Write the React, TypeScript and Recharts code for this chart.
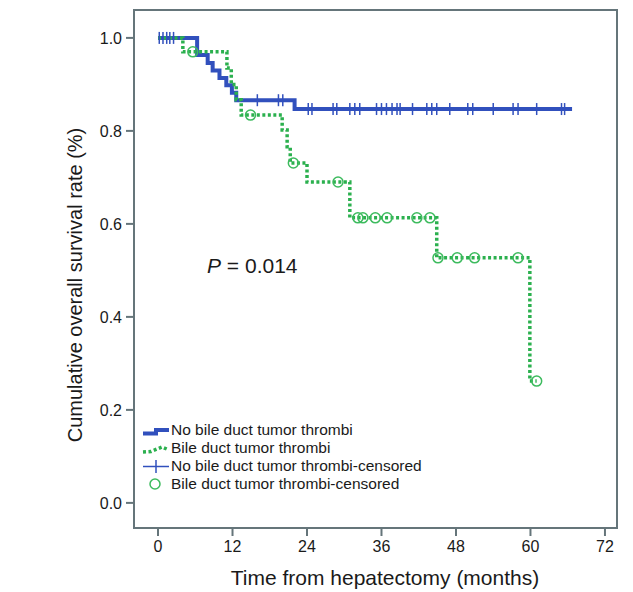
import { ComposedChart, Line, Scatter, XAxis, YAxis, ReferenceArea, Customized } from 'recharts';

// Kaplan-Meier steps
const noBdttTime = [0, 6.3, 8.0, 8.8, 9.9, 11.0, 11.9, 12.6, 22.0, 66.7];
const noBdttSurv = [1, 0.963, 0.946, 0.93, 0.914, 0.898, 0.882, 0.866, 0.847, 0.847];
const noBdttCensored = [
  0.2, 0.8, 1.4, 1.9, 2.5, 16, 19.4, 20.1, 24.2, 24.8, 28.2, 28.8, 30.9, 31.7, 32.5, 35.2, 36, 36.8,
  37.7, 38.5, 39, 41, 43.3, 44.1, 44.9, 47, 49.9, 50.7, 54, 57.2, 58, 61, 65, 65.5,
];

const bdttTime = [0, 4.0, 11.1, 11.8, 12.6, 13.4, 20.0, 20.8, 21.3, 24.0, 30.9, 44.9, 59.9, 61];
const bdttSurv = [1, 0.97, 0.935, 0.9, 0.867, 0.834, 0.802, 0.766, 0.731, 0.69, 0.613, 0.527, 0.262, 0.262];
const bdttCensored = [5.6, 14.9, 21.8, 29, 32.2, 33, 35, 36.9, 41.7, 43.8, 45.1, 48.2, 51, 58, 61];

const xTicks = [0, 12, 24, 36, 48, 60, 72];
const yTicks = [0, 0.2, 0.4, 0.6, 0.8, 1.0];

const BLUE = '#3150bd';
const GREEN = '#2bb04e';
const FRAME = '#65757a';
const FONT = '"Liberation Sans", Arial, sans-serif';

const xDomain = [-3.87, 73.94];
const yDomain = [-0.054, 1.06];

const toSteps = (times: number[], surv: number[]) => times.map((t, i) => ({ t, s: surv[i] }));

// censored marks sit on the curve at their time
const survAt = (times: number[], surv: number[], t: number) => {
  let s = surv[0];
  times.forEach((tt, i) => {
    if (tt <= t) s = surv[i];
  });
  return s;
};

const noBdttLine = toSteps(noBdttTime, noBdttSurv);
const bdttLine = toSteps(bdttTime, bdttSurv);
const noBdttMarks = noBdttCensored.map(t => ({ t, s: survAt(noBdttTime, noBdttSurv, t) }));
const bdttMarks = bdttCensored.map(t => ({ t, s: survAt(bdttTime, bdttSurv, t) }));

const PlusMark = (props: any) => (
  <line x1={props.cx} y1={props.cy - 6} x2={props.cx} y2={props.cy + 6} stroke={BLUE} strokeWidth={1.5} />
);

const CircleMark = (props: any) => (
  <circle cx={props.cx} cy={props.cy} r={5} fill="none" stroke="#3dbb5e" strokeWidth={1.5} />
);

const Titles = () => (
  <g fontFamily={FONT} fill="#1a1a1a">
    <text x={75} y={285} fontSize={20} textAnchor="middle" dominantBaseline="central" transform="rotate(-90 75 285)">
      Cumulative overall survival rate (%)
    </text>
    <text x={385} y={585} fontSize={21} textAnchor="middle">
      Time from hepatectomy (months)
    </text>
    <text x={207} y={273} fontSize={21}>
      <tspan fontStyle="italic">P</tspan> = 0.014
    </text>
  </g>
);

const legendRows = [
  'No bile duct tumor thrombi',
  'Bile duct tumor thrombi',
  'No bile duct tumor thrombi-censored',
  'Bile duct tumor thrombi-censored',
];

const LegendBox = () => (
  <div style={{ position: 'absolute', left: 140, top: 421, fontFamily: FONT, fontSize: 15.5, color: '#1a1a1a' }}>
    {legendRows.map((label, i) => (
      <div key={label} style={{ display: 'flex', alignItems: 'center', height: 18 }}>
        <svg width={30} height={18} style={{ marginRight: 1 }}>
          {i === 0 && <path d="M3,12.5 H16 V9 H29" fill="none" stroke={BLUE} strokeWidth={4} />}
          {i === 1 && (
            <path d="M3,13 L11,12.5 L17,10 L22,8 L29,11" fill="none" stroke={GREEN} strokeWidth={3.5} strokeDasharray="3 2.5" />
          )}
          {i === 2 && (
            <g stroke={BLUE} strokeWidth={1.5}>
              <line x1={3} y1={9.5} x2={29} y2={9.5} />
              <line x1={16} y1={3} x2={16} y2={16} />
            </g>
          )}
          {i === 3 && <circle cx={15} cy={9} r={5} fill="none" stroke="#3dbb5e" strokeWidth={1.5} />}
        </svg>
        <span>{label}</span>
      </div>
    ))}
  </div>
);

export default function App() {
  return (
    <div style={{ position: 'absolute', left: 0, top: 0, width: 633, height: 592, background: '#fff' }}>
      <ComposedChart width={633} height={592} margin={{ top: 10, right: 16, bottom: 34, left: 74 }}>
        <XAxis
          dataKey="t"
          type="number"
          domain={xDomain}
          allowDataOverflow
          ticks={xTicks}
          height={30}
          axisLine={false}
          tickSize={8}
          tickMargin={5}
          tickLine={{ stroke: FRAME, strokeWidth: 2 }}
          tick={{ fontSize: 16, fill: '#1a1a1a', fontFamily: FONT }}
        />
        <YAxis
          type="number"
          domain={yDomain}
          allowDataOverflow
          ticks={yTicks}
          width={60}
          axisLine={false}
          tickSize={8}
          tickMargin={4}
          tickLine={{ stroke: FRAME, strokeWidth: 2 }}
          tickFormatter={(v: number) => v.toFixed(1)}
          tick={{ fontSize: 16, fill: '#1a1a1a', fontFamily: FONT }}
        />
        <ReferenceArea
          x1={xDomain[0]}
          x2={xDomain[1]}
          y1={yDomain[0]}
          y2={yDomain[1]}
          fill="none"
          stroke={FRAME}
          strokeWidth={2}
        />
        <Line
          data={noBdttLine}
          dataKey="s"
          type="stepAfter"
          stroke={BLUE}
          strokeWidth={4}
          dot={false}
          isAnimationActive={false}
        />
        <Line
          data={bdttLine}
          dataKey="s"
          type="stepAfter"
          stroke={GREEN}
          strokeWidth={3.5}
          strokeDasharray="3 2.5"
          dot={false}
          isAnimationActive={false}
        />
        <Scatter data={noBdttMarks} dataKey="s" shape={PlusMark} isAnimationActive={false} />
        <Scatter data={bdttMarks} dataKey="s" shape={CircleMark} isAnimationActive={false} />
        <Customized component={Titles} />
      </ComposedChart>
      <LegendBox />
    </div>
  );
}
